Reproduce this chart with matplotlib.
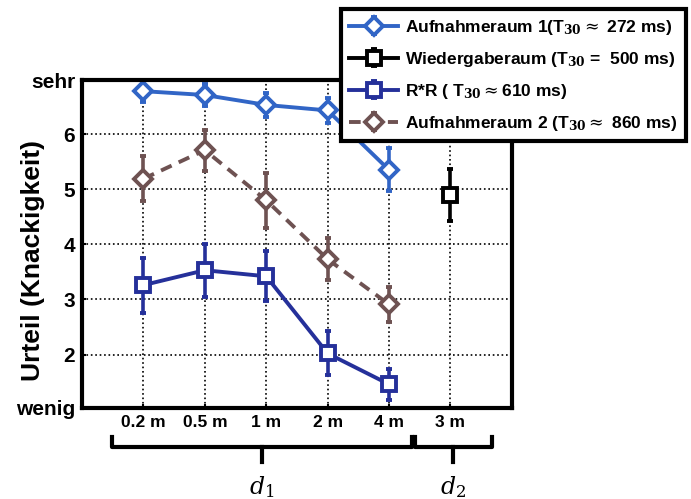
import matplotlib.pyplot as plt
import matplotlib.transforms as mtransforms

plt.rcParams['font.family'] = ['Liberation Sans', 'DejaVu Sans']
plt.rcParams['mathtext.fontset'] = 'dejavuserif'

dist_labels = ['0.2 m', '0.5 m', '1 m', '2 m', '4 m', '3 m']
x_d1 = [1, 2, 3, 4, 5]
x_d2 = [6]

auf1 = [6.78, 6.71, 6.53, 6.43, 5.35]
auf1_err = [0.2, 0.2, 0.22, 0.22, 0.39]
wieder = [4.90]
wieder_err = [0.47]
rr = [3.26, 3.53, 3.42, 2.02, 1.46]
rr_err = [0.5, 0.48, 0.45, 0.4, 0.28]
auf2 = [5.19, 5.71, 4.80, 3.73, 2.91]
auf2_err = [0.41, 0.37, 0.5, 0.38, 0.32]

c_auf1 = '#3165c6'
c_rr = '#25309a'
c_auf2 = '#6e5252'
c_wie = '#000000'

fig = plt.figure(figsize=(6.91, 4.99), dpi=100)
ax = fig.add_axes([0.1187, 0.1824, 0.622, 0.657])

common = dict(lw=2.8, elinewidth=2.6, capsize=2, capthick=2.6, mew=2.8,
              markerfacecolor='white')
h1 = ax.errorbar(x_d1, auf1, yerr=auf1_err, color=c_auf1, marker='D', ms=9,
                 **common, label=r'Aufnahmeraum 1(T$_{\mathbf{30}}$$\approx$ 272 ms)')
h2 = ax.errorbar(x_d2, wieder, yerr=wieder_err, color=c_wie, marker='s', ms=10,
                 **common, label=r'Wiedergaberaum (T$_{\mathbf{30}}$ =  500 ms)')
h3 = ax.errorbar(x_d1, rr, yerr=rr_err, color=c_rr, marker='s', ms=10,
                 **common, label=r'R*R ( T$_{\mathbf{30}}$$\approx$610 ms)')
h4 = ax.errorbar(x_d1, auf2, yerr=auf2_err, color=c_auf2, marker='D', ms=9,
                 ls=(0, (3, 2)), **common,
                 label=r'Aufnahmeraum 2 (T$_{\mathbf{30}}$$\approx$ 860 ms)')
h4[-1][0].set_linestyle('-')

ax.set_xlim(0, 7)
ax.set_ylim(1.03, 6.98)
ax.set_xticks(x_d1 + x_d2)
ax.set_xticklabels(dist_labels, fontweight='bold', fontsize=12.5)
ax.set_yticks([1.03, 2, 3, 4, 5, 6, 6.98])
ax.set_yticklabels(['wenig', '2', '3', '4', '5', '6', 'sehr'],
                   fontweight='bold', fontsize=15)
ax.tick_params(length=3, width=1.5, direction='in', pad=5)
ax.grid(True, ls=':', color='black', lw=1.2)
ax.yaxis.get_gridlines()[0].set_visible(False)
ax.yaxis.get_gridlines()[-1].set_visible(False)
for s in ax.spines.values():
    s.set_linewidth(3)
ax.set_ylabel('Urteil (Knackigkeit)', fontweight='bold', fontsize=19)
ax.yaxis.set_label_coords(-0.085, 0.45)

# brackets below the x axis
tr = mtransforms.blended_transform_factory(ax.transData, ax.transAxes)
for x0, x1, xc, lab in [(0.49, 5.38, 2.93, r'$d_1$'), (5.43, 6.68, 6.05, r'$d_2$')]:
    ax.plot([x0, x0, x1, x1], [-0.088, -0.119, -0.119, -0.088], color='black',
            lw=3, transform=tr, clip_on=False, solid_joinstyle='round')
    ax.plot([xc, xc], [-0.119, -0.165], color='black', lw=3, transform=tr,
            clip_on=False)
    ax.text(xc, -0.24, lab, transform=tr, ha='center', va='center', fontsize=17)

leg = fig.legend(handles=[h1, h2, h3, h4], loc='upper right',
                 bbox_to_anchor=(0.993, 0.982), prop={'weight': 'bold', 'size': 12.5},
                 handlelength=2.8, fancybox=False, framealpha=1, edgecolor='black',
                 borderaxespad=0, labelspacing=0.75, handletextpad=0.4,
                 borderpad=0.5)
leg.get_frame().set_linewidth(3)

fig.savefig('out.png', dpi=100)
